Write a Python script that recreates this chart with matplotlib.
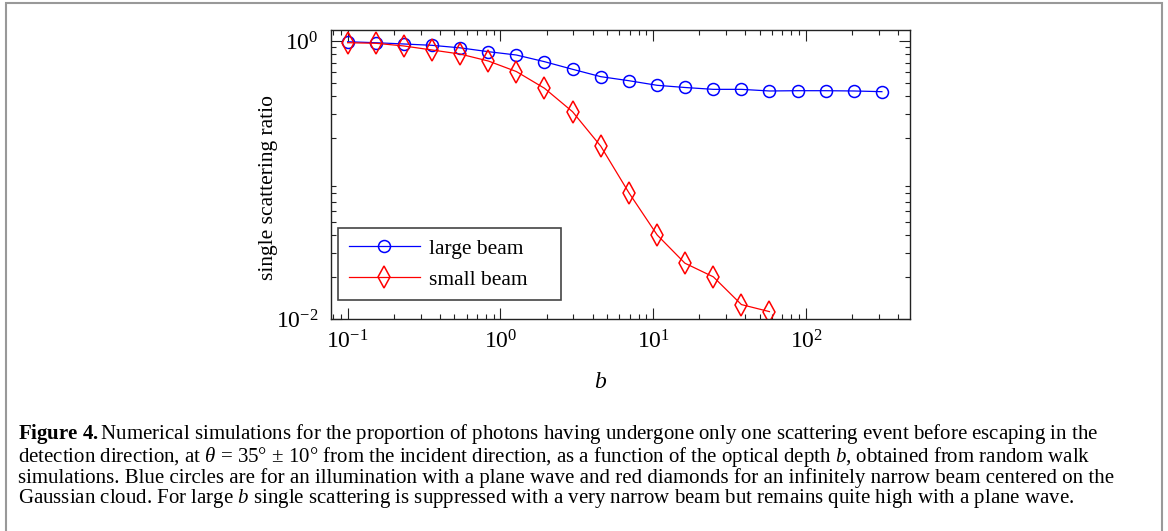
import math
import matplotlib
matplotlib.use('Agg')
import matplotlib.pyplot as plt
from matplotlib.ticker import FixedLocator, FuncFormatter, NullFormatter
from matplotlib.patches import Rectangle

# optical depth b (log spaced samples)
b = [0.100, 0.153, 0.233, 0.356, 0.544, 0.832, 1.27, 1.94, 2.96, 4.53,
     6.92, 10.6, 16.1, 24.7, 37.7, 57.5, 87.9, 134, 205, 313]

# single scattering ratio
large_beam = [0.988, 0.972, 0.952, 0.931, 0.893, 0.838, 0.793, 0.710, 0.626, 0.554,
              0.518, 0.480, 0.463, 0.449, 0.449, 0.437, 0.439, 0.439, 0.437, 0.432]
small_beam = [0.972, 0.963, 0.921, 0.862, 0.806, 0.718, 0.603, 0.457, 0.310, 0.175,
              0.081, 0.0402, 0.0252, 0.0201, 0.0127, 0.0113]

x_major = [0.1, 1, 10, 100]
y_major = [0.01, 1]

caption = [
    r"$\mathbf{Figure\ 4.}$Numerical simulations for the proportion of photons having undergone only one scattering event before escaping in the",
    r"detection direction, at $\mathit{θ}$ = 35° ± 10° from the incident direction, as a function of the optical depth $\mathit{b}$, obtained from random walk",
    r"simulations. Blue circles are for an illumination with a plane wave and red diamonds for an infinitely narrow beam centered on the",
    r"Gaussian cloud. For large $\mathit{b}$ single scattering is suppressed with a very narrow beam but remains quite high with a plane wave.",
]

plt.rcParams['font.family'] = ['Liberation Serif', 'DejaVu Serif']
plt.rcParams['mathtext.fontset'] = 'custom'
plt.rcParams['mathtext.rm'] = 'Liberation Serif'
plt.rcParams['mathtext.it'] = 'Liberation Serif:italic'
plt.rcParams['mathtext.bf'] = 'Liberation Serif:bold'

W, H = 1168, 531
fig = plt.figure(figsize=(W / 100, H / 100), dpi=100)


def fx(px):
    return px / W


def fy(py):
    return 1 - py / H


ax = fig.add_axes([fx(331), fy(319), fx(910) - fx(331), fy(30) - fy(319)])

ax.plot(b, large_beam, color='blue', lw=0.9, marker='o', ms=8.6,
        mfc='none', mec='blue', mew=1.1, label='large beam')
ax.plot(b[:len(small_beam)], small_beam, color='red', lw=0.9, marker='d', ms=11,
        mfc='none', mec='red', mew=1.1, label='small beam')

ax.set_xscale('log')
ax.set_yscale('log')
ax.set_xlim(0.0778, 478)
ax.set_ylim(0.01, 1.2)

ax.xaxis.set_major_locator(FixedLocator(x_major))
ax.yaxis.set_major_locator(FixedLocator(y_major))
x_minor = [m * d for d in [0.01, 0.1, 1, 10, 100] for m in range(2, 10)]
y_minor = [m * d for d in [0.01, 0.1] for m in range(2, 10)]
ax.xaxis.set_minor_locator(FixedLocator(x_minor))
ax.yaxis.set_minor_locator(FixedLocator(y_minor))
fmt = FuncFormatter(lambda v, p: r'$\mathregular{10^{%d}}$' % round(math.log10(v)))
ax.xaxis.set_major_formatter(fmt)
ax.yaxis.set_major_formatter(fmt)
ax.xaxis.set_minor_formatter(NullFormatter())
ax.yaxis.set_minor_formatter(NullFormatter())

ax.tick_params(which='both', direction='in', top=True, right=True, width=0.8, color='#222222')
ax.tick_params(which='major', length=8, labelsize=17)
ax.tick_params(axis='x', which='major', pad=8)
ax.tick_params(axis='y', which='major', pad=9)
ax.tick_params(which='minor', length=3.6)
for s in ax.spines.values():
    s.set_linewidth(1.0)
    s.set_color('#222222')

leg = ax.legend(loc='upper left', mode='expand', borderaxespad=0,
                bbox_to_anchor=(fx(338), fy(307), fx(561) - fx(338), fy(228) - fy(307)),
                bbox_transform=fig.transFigure, fancybox=False, framealpha=1,
                edgecolor='#444444', fontsize=15.5, handlelength=3.3,
                handletextpad=0.45, borderpad=0.5, labelspacing=0.5)
leg.get_frame().set_linewidth(1.2)

fig.text(fx(268), fy(187), 'single scattering ratio', rotation=90,
         ha='center', va='center', fontsize=15.5)
fig.text(fx(601), fy(383), r'$\mathit{b}$', ha='center', va='center', fontsize=17)

fig.text(fx(18), fy(466), '\n'.join(caption), ha='left', va='center',
         fontsize=15, linespacing=0.95)

fig.add_artist(Rectangle((fx(6), -0.1), fx(1162) - fx(6), fy(3) + 0.1,
                         transform=fig.transFigure, fill=False,
                         edgecolor='#999999', lw=1.5))

fig.savefig('out.png', dpi=100)
